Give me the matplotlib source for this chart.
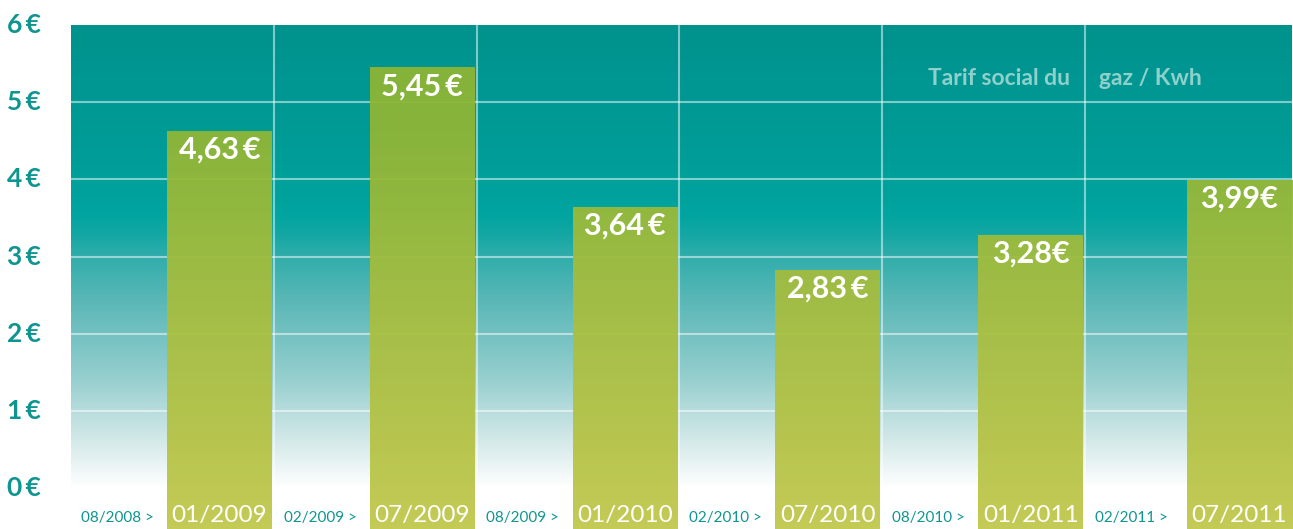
import numpy as np
import matplotlib
matplotlib.use("Agg")
import matplotlib.pyplot as plt
from matplotlib.colors import LinearSegmentedColormap
from matplotlib.transforms import blended_transform_factory

# ---- data ----
start_labels = ["08/2008 >", "02/2009 >", "08/2009 >", "02/2010 >", "08/2010 >", "02/2011 >"]
end_labels = ["01/2009", "07/2009", "01/2010", "07/2010", "01/2011", "07/2011"]
values = [4.63, 5.45, 3.64, 2.83, 3.28, 3.99]
value_labels = ["4,63\u2009€", "5,45\u2009€", "3,64\u2009€", "2,83\u2009€", "3,28€", "3,99€"]
y_ticks = [0, 1, 2, 3, 4, 5, 6]
y_tick_labels = ["0\u2009€", "1\u2009€", "2\u2009€", "3\u2009€", "4\u2009€", "5\u2009€", "6\u2009€"]
title_left = "Tarif social du"
title_right = "gaz / Kwh"

plt.rcParams['font.family'] = ['Lato', 'DejaVu Sans']

W, H = 1293, 529
fig = plt.figure(figsize=(W / 100, H / 100), dpi=100)
ax = fig.add_axes([71 / W, 0, (1292 - 71) / W, 504 / H])
XMAX = 6.02
YMIN, YMAX = -0.53, 6.0
ax.set_xlim(0, XMAX)
ax.set_ylim(YMIN, YMAX)
ax.axis('off')

# background gradient (value 0 -> 6)
bg_stops = [(0.0, "#ffffff"), (0.36, "#e5f1f1"), (0.88, "#c0e0e0"), (1.4, "#97cfcf"),
            (1.92, "#78c3c3"), (2.44, "#59b7b6"), (2.96, "#33aeac"), (3.29, "#13a7a4"),
            (3.55, "#00a4a0"), (4.4, "#009c97"), (6.0, "#00928d")]
bg_cmap = LinearSegmentedColormap.from_list("bg", [(v / 6.0, c) for v, c in bg_stops])
grad = np.linspace(0, 1, 512).reshape(-1, 1)
ax.imshow(grad, aspect='auto', cmap=bg_cmap, origin='lower',
          extent=(0, XMAX, 0, 6.0), zorder=0, interpolation='bilinear')

# gridlines
for yv in [1, 2, 3, 4, 5]:
    ax.plot([0, XMAX], [yv, yv], color='white', alpha=0.5, lw=1.5, zorder=1,
            solid_capstyle='butt')
for xv in [1, 2, 3, 4, 5]:
    ax.plot([xv, xv], [0, 6.0], color='white', alpha=0.5, lw=1.5, zorder=1,
            solid_capstyle='butt')

# bars with vertical gradient
bar_stops = [(-0.53, "#c2c94e"), (0.0, "#bbc64a"), (1.5, "#aec145"), (3.0, "#a0bc3e"),
             (4.6, "#8fb637"), (6.0, "#8ab435")]
span = bar_stops[-1][0] - bar_stops[0][0]
bar_cmap = LinearSegmentedColormap.from_list(
    "bar", [((v - bar_stops[0][0]) / span, c) for v, c in bar_stops])
bar_lefts = [0.473, 1.473, 2.473, 3.473, 4.473, 5.5]
bar_widths = [0.517, 0.517, 0.517, 0.517, 0.517, 0.52]
bars = ax.bar(bar_lefts, [v - YMIN for v in values], width=bar_widths, bottom=YMIN,
              align='edge', facecolor='none', edgecolor='none', zorder=2)
for b in bars:
    img = ax.imshow(grad, aspect='auto', cmap=bar_cmap, origin='lower',
                    extent=(0, XMAX, bar_stops[0][0], bar_stops[-1][0]),
                    zorder=2, alpha=0.96, interpolation='bilinear')
    img.set_clip_path(b)
ax.set_xlim(0, XMAX)
ax.set_ylim(YMIN, YMAX)

# labels
teal = "#0f958f"
for i, b in enumerate(bars):
    cx = b.get_x() + b.get_width() / 2
    ax.text(cx, values[i] - 0.245, value_labels[i], ha='center', va='center',
            color='white', fontsize=22, fontweight='bold', zorder=5)
    ax.text(cx, -0.355, end_labels[i], ha='center', va='center', color='white',
            fontsize=17.5, zorder=5)
    ax.text(i + 0.228, -0.39, start_labels[i], ha='center', va='center', color=teal,
            fontsize=11, zorder=5)

tr = blended_transform_factory(fig.transFigure, ax.transData)
for yv, lab in zip(y_ticks, y_tick_labels):
    ax.text(7 / W, yv, lab, transform=tr, ha='left', va='center', color=teal,
            fontsize=19, fontweight='bold', clip_on=False)

ax.text(4.926, 5.31, title_left, ha='right', va='center', color="#8ed1cc",
        fontsize=16.5, fontweight='bold', zorder=5)
ax.text(5.069, 5.31, title_right, ha='left', va='center', color="#8ed1cc",
        fontsize=16.5, fontweight='bold', zorder=5)

fig.savefig("out.png", dpi=100)
